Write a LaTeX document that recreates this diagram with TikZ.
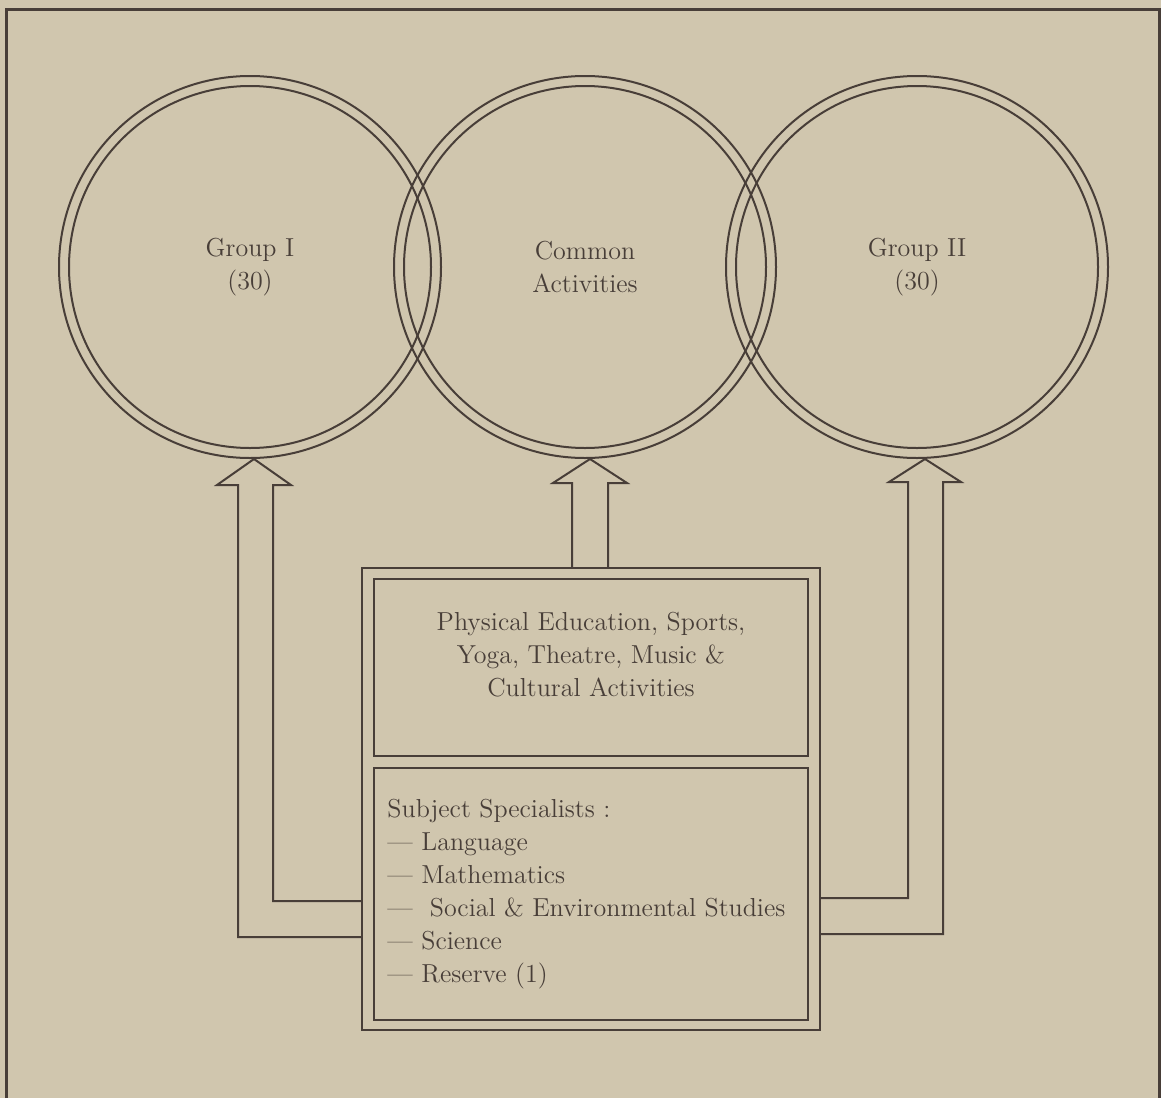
\documentclass[tikz,border=0pt]{standalone}
\usepackage{xcolor}
\usepackage{tikz}
\usetikzlibrary{positioning,calc}

\definecolor{paper}{RGB}{208,198,174}
\definecolor{ink}{RGB}{72,62,56}

\begin{document}
\begin{tikzpicture}[
    x=0.5pt, y=-0.5pt,
    every node/.style={font=\fontsize{13}{16.5}\selectfont, text=ink},
    ring/.style={circle, draw=ink, line width=1pt, minimum size=191pt, inner sep=0pt, align=center},
    ringin/.style={circle, draw=ink, line width=1pt, minimum size=181pt, inner sep=0pt},
    box/.style={rectangle, draw=ink, line width=1pt, minimum width=217pt, inner sep=0pt},
    line/.style={draw=ink, line width=1pt, line join=miter}
]
    % Page
    \useasboundingbox (0,0) rectangle (1161,1098);
    \fill[paper] (0,0) rectangle (1161,1098);
    \draw[ink, line width=1.5pt] (6,1098) -- (6,9) -- (1159,9) -- (1159,1098);

    % Circles
    \node[ring] (g1) at (250,267) {Group I\\(30)};
    \node[ringin] (g1i) at (g1) {};
    \node[ring] (g2) at (585,267) {Common\\Activities};
    \node[ringin] (g2i) at (g2) {};
    \node[ring] (g3) at (917,267) {Group II\\(30)};
    \node[ringin] (g3i) at (g3) {};

    % Staff box
    \node[box, minimum width=229pt, minimum height=231pt] (outer) at (591,799) {};
    \node[box, minimum height=88.5pt] (upper) at (591,667.5) {};
    \node[box, minimum height=126pt] (lower) at (591,894) {};

    \node[align=center] (pe) at ([yshift=6.5pt]upper.center)
        {Physical Education, Sports,\\Yoga, Theatre, Music \&\\Cultural Activities};
    \node[align=left, anchor=west] (subj) at ([xshift=3.7pt]lower.west)
        {Subject Specialists :\\--- Language\\--- Mathematics\\---\ \ Social \& Environmental Studies\\--- Science\\--- Reserve (1)};

    % Arrow tips
    \coordinate (t1) at ([xshift=2pt]g1.south);
    \coordinate (t2) at ([xshift=2.5pt]g2.south);
    \coordinate (t3) at ([xshift=4pt]g3.south);

    % Arrows
    \draw[line] (outer.west |- 0,937) -- (238,937) -- (238,485) -- (217,485) -- (t1)
        -- (291,485) -- (273,485) -- (273,901) -- (outer.west |- 0,901);
    \draw[line] (outer.north -| 572,0) -- (572,483) -- (553,483) -- (t2)
        -- (627,483) -- (608,483) -- (outer.north -| 608,0);
    \draw[line] (outer.east |- 0,898) -- (908,898) -- (908,482) -- (889,482) -- (t3)
        -- (961,482) -- (943,482) -- (943,934) -- (outer.east |- 0,934);
\end{tikzpicture}
\end{document}
